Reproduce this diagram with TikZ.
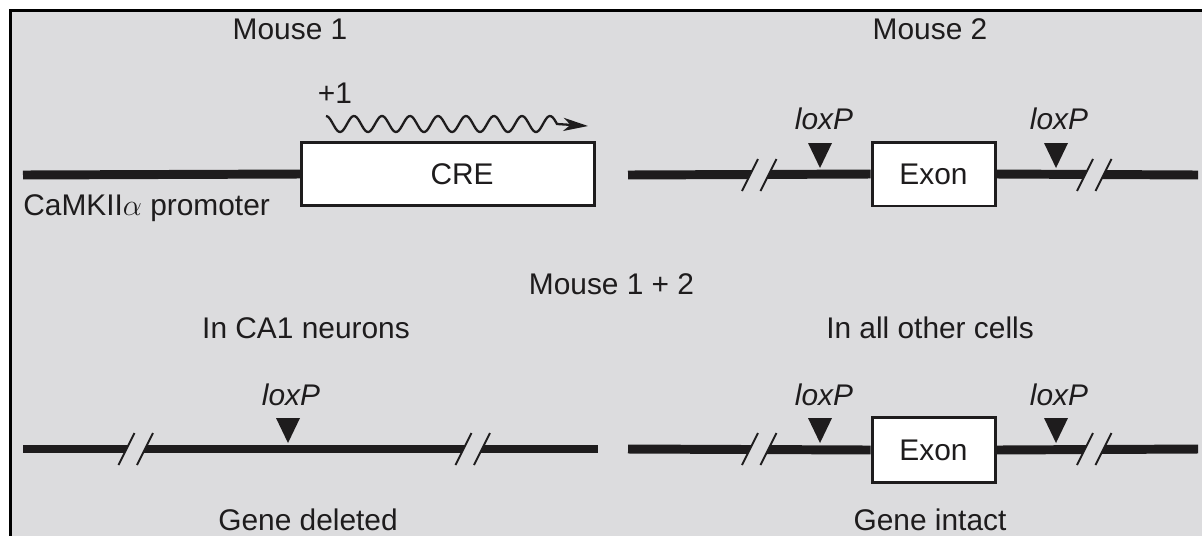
\documentclass[tikz,border=0pt]{standalone}
\usepackage{fontspec}
\setmainfont{Liberation Sans}
\usetikzlibrary{arrows.meta}
\definecolor{bg}{RGB}{220,220,222}
\definecolor{ink}{RGB}{30,28,29}
\newcommand\genebrk[2]{%
  \fill[bg] ({#1-3},{#2+6}) -- ({#1+3},{#2-6}) -- ({#1+21.5},{#2-6}) -- ({#1+15.5},{#2+6}) -- cycle;
  \draw[brk] ({#1-8},{#2+16}) -- ({#1+8},{#2-16});
  \draw[brk] ({#1+10.5},{#2+16}) -- ({#1+26.5},{#2-16});
}
\newcommand\loxtri[2]{\fill[ink] ({#1-12},{#2}) -- ({#1+12},{#2}) -- (#1,{#2+25}) -- cycle;}
\begin{document}
\begin{tikzpicture}[x=0.02cm,y=-0.02cm,
  lbl/.style={anchor=base,inner sep=0,font=\fontsize{17}{20}\selectfont,text=ink},
  lox/.style={lbl,font=\fontsize{17}{20}\selectfont\itshape},
  gene/.style={line width=5.1pt,draw=ink},
  genebox/.style={draw=ink,line width=1.7pt,fill=white,inner sep=0,font=\fontsize{17}{20}\selectfont,text=ink},
  brk/.style={draw=ink,line width=1.1pt},
  ]
\useasboundingbox (0,0) rectangle (1202,535);
\fill[white] (0,0) rectangle (1202,535);
\begin{scope}
  \clip (0,0) rectangle (1202,535);
  \draw[fill=bg,draw=black,line width=1.7pt] (10.5,10.5) rectangle (1240,570);
\end{scope}

% titles
\node[lbl] (m1) at (290,39) {Mouse 1};
\node[lbl] (m2) at (930,39) {Mouse 2};
\node[lbl] (m12) at (611.5,294) {Mouse 1 + 2};
\node[lbl] (ca1) at (306,338) {In CA1 neurons};
\node[lbl] (oth) at (930,338) {In all other cells};
\node[lbl] (del) at (308,530) {Gene deleted};
\node[lbl] (int) at (930,530) {Gene intact};

% Mouse 1
\node[genebox,minimum width=5.87cm,minimum height=1.26cm] (cre) at (448,174) {\hspace*{16pt}CRE};
\coordinate (a0) at (23,175);
\draw[gene] (a0) -- (cre.west);
\node[lbl,anchor=base west] (prom) at (23,215) {CaMKII$\alpha$ promoter};
\node[lbl] (plus1) at (335,103) {+1};
\draw[line width=1.3pt,draw=ink,-{Stealth[length=14pt,width=7.5pt,inset=4pt]}]
  plot[domain=0:231,samples=160] ({326+\x},{124-8*cos(12.857143*\x)}) -- (588,126);

% Mouse 2
\node[genebox,minimum width=2.46cm,minimum height=1.28cm] (ex1) at (933.5,174) {Exon};
\coordinate (b0) at (628,175);
\coordinate (b1) at (1198,175);
\draw[gene] (b0) -- (ex1.west);
\draw[gene] (ex1.east) -- (b1);
\genebrk{750}{175}
\genebrk{1085}{175}
\loxtri{820}{143}
\loxtri{1056}{143}
\node[lox] (lx1) at (824,129) {loxP};
\node[lox] (lx2) at (1059,129) {loxP};

% CA1 neurons
\coordinate (c0) at (23,449);
\coordinate (c1) at (598,449);
\draw[gene] (c0) -- (c1);
\genebrk{126.5}{449}
\genebrk{463.5}{449}
\loxtri{288}{418}
\node[lox] (lx3) at (291,405) {loxP};

% other cells
\node[genebox,minimum width=2.46cm,minimum height=1.29cm] (ex2) at (933.5,450) {Exon};
\coordinate (d0) at (628,449);
\coordinate (d1) at (1198,449);
\draw[gene] (d0) -- (ex2.west);
\draw[gene] (ex2.east) -- (d1);
\genebrk{750}{449}
\genebrk{1085}{449}
\loxtri{820}{418}
\loxtri{1056}{418}
\node[lox] (lx4) at (824,405) {loxP};
\node[lox] (lx5) at (1059,405) {loxP};
\end{tikzpicture}
\end{document}
